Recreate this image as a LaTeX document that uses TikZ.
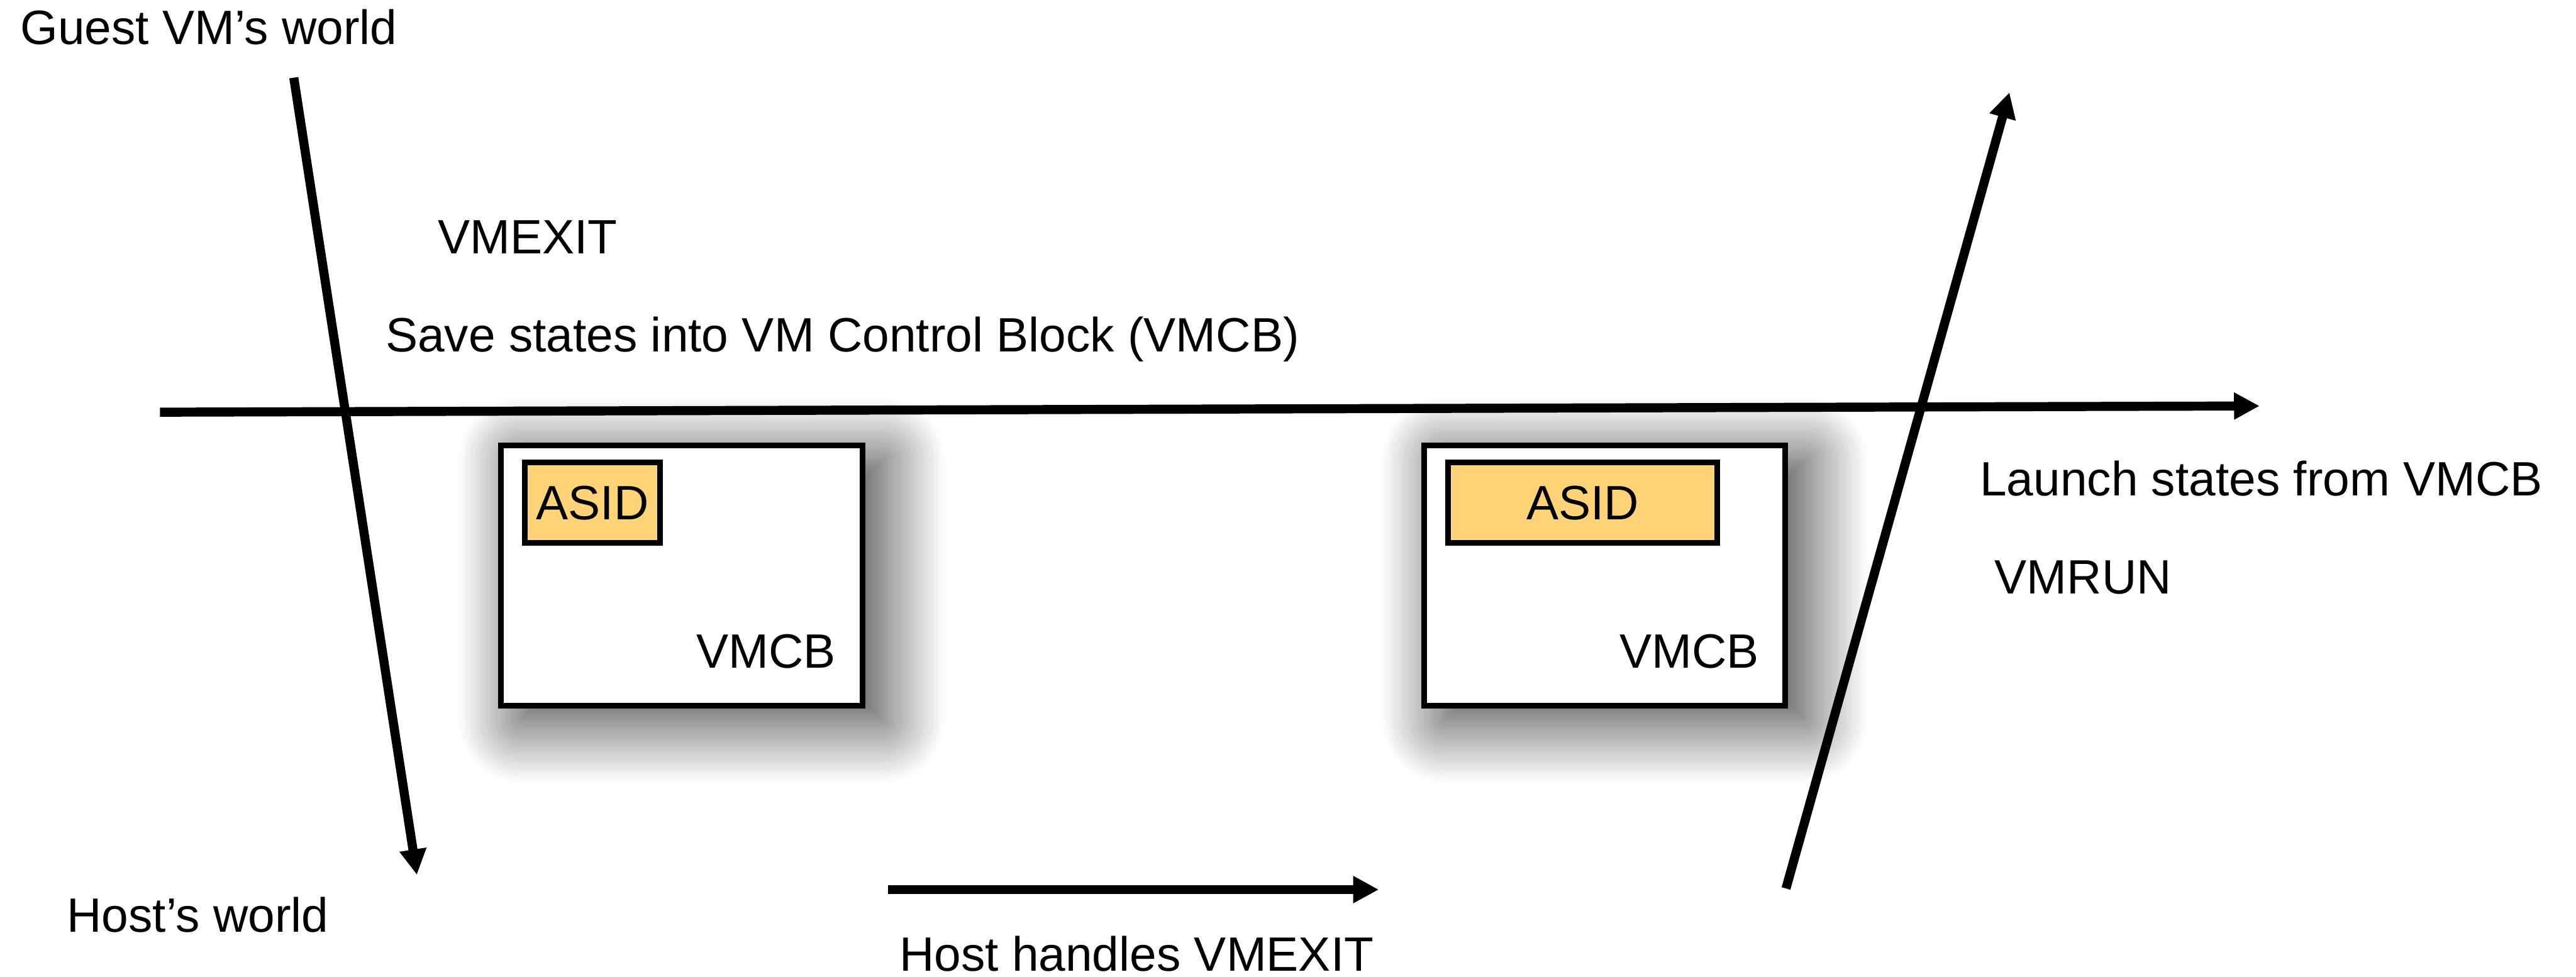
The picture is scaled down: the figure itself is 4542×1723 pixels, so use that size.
\documentclass[tikz,border=0pt]{standalone}
\usepackage{fontspec}
\setmainfont{Liberation Sans}
\usetikzlibrary{arrows.meta,shadows.blur}
\definecolor{asidfill}{HTML}{FFD479}

\begin{document}
\begin{tikzpicture}[x=0.2pt,y=-0.2pt,
  every node/.style={inner sep=0pt, outer sep=0pt, font=\fontsize{17}{20}\selectfont},
  label/.style={anchor=base west},
  flow/.style={line width=3.2pt, -{Triangle[length=9pt,width=9pt]}},
  vmcb/.style={draw, line width=2pt, fill=white, minimum width=#1, minimum height=91.8pt,
    blur shadow={shadow xshift=7pt, shadow yshift=-5pt, shadow blur radius=22pt,
                 shadow blur steps=30, shadow opacity=80}},
  asid/.style={draw, line width=2pt, fill=asidfill, minimum width=#1, minimum height=28.4pt},
]
\useasboundingbox (0,0) rectangle (4542,1723);

% control blocks with their ASID fields
\node[vmcb=127.6pt] (vmcbA) at (1202,1015.5) {};
\node[vmcb=127.4pt] (vmcbB) at (2829.5,1015.5) {};
\node[asid=47.8pt] (asidA) at (1044.5,887) {ASID};
\node[asid=95pt] (asidB) at (2790.5,887) {ASID};
\node[label] (tagA) at (1228,1178) {VMCB};
\node[label] (tagB) at (2856,1178) {VMCB};

% labels
\node[label] (guest) at (36,78) {Guest VM’s world};
\node[label] (host) at (118,1644) {Host’s world};
\node[label] (vmexit) at (772,447) {VMEXIT};
\node[label] (save) at (680,620) {Save states into VM Control Block (VMCB)};
\node[label] (launch) at (3491,874) {Launch states from VMCB};
\node[label] (vmrun) at (3517,1047) {VMRUN};
\node[label] (handles) at (1586,1713) {Host handles VMEXIT};

% arrow end points
\coordinate (exitTop) at (518,137);
\coordinate (exitEnd) at (735,1543);
\coordinate (axisL) at (282,727);
\coordinate (axisR) at (3984,716);
\coordinate (runBot) at (3149,1567);
\coordinate (runTop) at (3543,163);
\coordinate (hostL) at (1566,1569);
\coordinate (hostR) at (2431,1569);

\draw[flow] (exitTop) -- (exitEnd);
\draw[flow] (axisL) -- (axisR);
\draw[flow] (runBot) -- (runTop);
\draw[flow] (hostL) -- (hostR);
\end{tikzpicture}
\end{document}
